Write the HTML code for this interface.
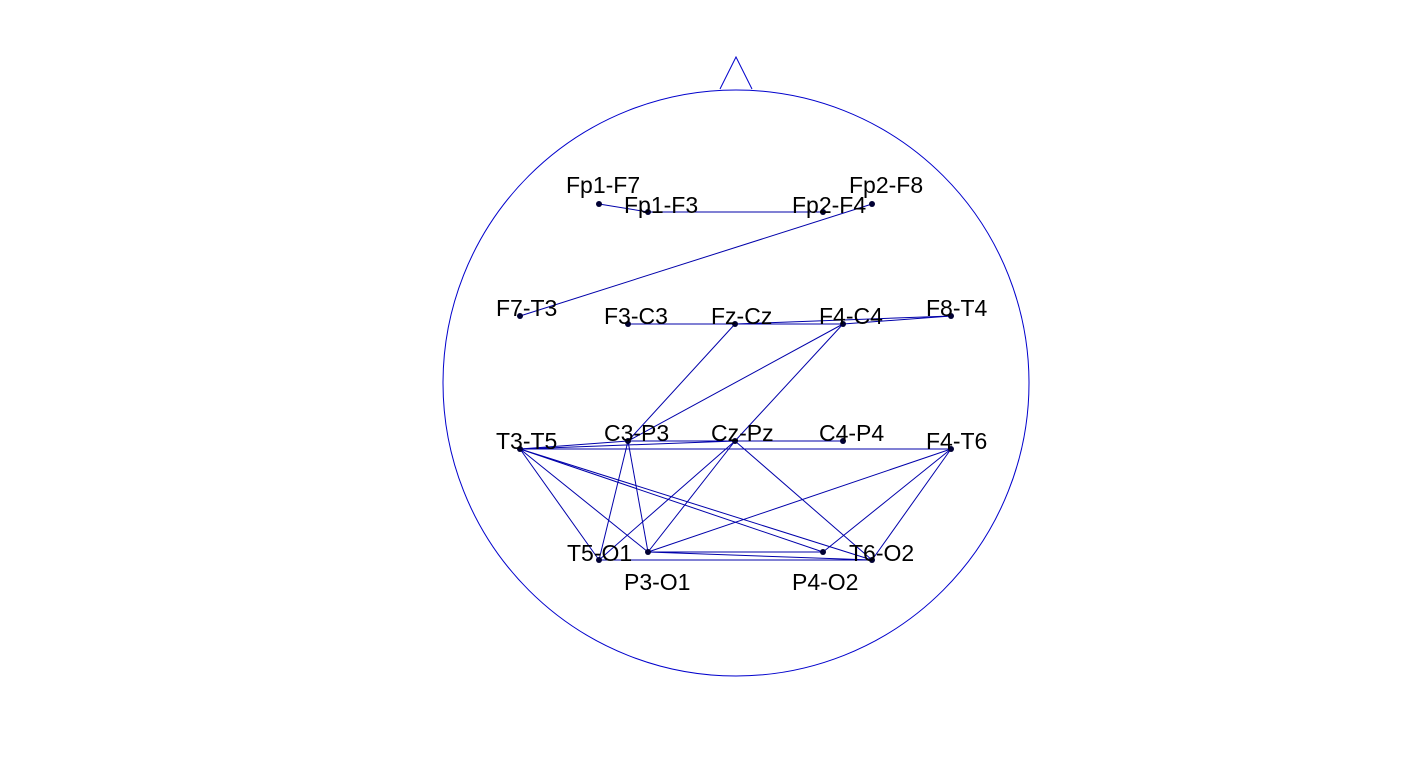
<!DOCTYPE html>
<html><head><meta charset="utf-8"><style>
html,body{margin:0;padding:0;background:#fff;}
svg{display:block;}
text{font-family:"Liberation Sans",sans-serif;font-size:23px;fill:#000;}
</style></head><body>
<svg width="1422" height="760" viewBox="0 0 1422 760" xmlns="http://www.w3.org/2000/svg">
<circle cx="736" cy="383" r="293" fill="none" stroke="#0000cc" stroke-width="1"/>
<polyline points="720,89 736,57 752,89" fill="none" stroke="#0000cc" stroke-width="1"/>
<g id="edges"></g>
<g id="nodes"></g>
<g id="labels"></g>
</svg>
<script>
const channels=["Fp1-F7","Fp1-F3","Fp2-F4","Fp2-F8","F7-T3","F3-C3","Fz-Cz","F4-C4","F8-T4","T3-T5","C3-P3","Cz-Pz","C4-P4","F4-T6","T5-O1","P3-O1","P4-O2","T6-O2"];
const nodeX=[599,648,823,872,520,628,735,843,951,520,628,735,843,951,599,648,823,872];
const nodeY=[204,212,212,204,316,324,324,324,316,449,441,441,441,449,560,552,552,560];
const labelDX=[-33,-24,-31,-23,-24,-24,-24,-24,-25,-24,-24,-24,-24,-25,-32,-24,-31,-23];
const labelDY=[-11,1,1,-11,0,0,0,0,0,0,0,0,0,0,1,38,38,1];
const edgeFrom=["Fp1-F7","Fp1-F3","F7-T3","F3-C3","F3-C3","Fz-Cz","F4-C4","Fz-Cz","F4-C4","F4-C4","T3-T5","T3-T5","T3-T5","C3-P3","T3-T5","T3-T5","T3-T5","T3-T5","C3-P3","C3-P3","Cz-Pz","Cz-Pz","Cz-Pz","F4-T6","F4-T6","F4-T6","T5-O1","P3-O1","P3-O1"];
const edgeTo=["Fp1-F3","Fp2-F4","Fp2-F8","Fz-Cz","F4-C4","F8-T4","F8-T4","C3-P3","C3-P3","Cz-Pz","C3-P3","Cz-Pz","F4-T6","C4-P4","T5-O1","P3-O1","P4-O2","T6-O2","T5-O1","P3-O1","T5-O1","P3-O1","T6-O2","P3-O1","P4-O2","T6-O2","T6-O2","T6-O2","P4-O2"];
const NS="http://www.w3.org/2000/svg";
const gE=document.getElementById('edges'),gN=document.getElementById('nodes'),gL=document.getElementById('labels');
function px(name){const i=channels.indexOf(name);return [nodeX[i],nodeY[i]];}
edgeFrom.forEach((f,k)=>{
  const a=px(f),b=px(edgeTo[k]);
  const l=document.createElementNS(NS,'line');
  l.setAttribute('x1',a[0]);l.setAttribute('y1',a[1]);l.setAttribute('x2',b[0]);l.setAttribute('y2',b[1]);
  l.setAttribute('stroke','#0000aa');l.setAttribute('stroke-width','1');
  
  
  gE.appendChild(l);
});
channels.forEach((c,i)=>{
  const d=document.createElementNS(NS,'circle');
  d.setAttribute('cx',nodeX[i]);d.setAttribute('cy',nodeY[i]);d.setAttribute('r','3');d.setAttribute('fill','#000033');
  
  
  gN.appendChild(d);
  const t=document.createElementNS(NS,'text');
  t.setAttribute('x',nodeX[i]+labelDX[i]);t.setAttribute('y',nodeY[i]+labelDY[i]);
  t.textContent=c;
  
  
  gL.appendChild(t);
});
</script>
</body></html>
